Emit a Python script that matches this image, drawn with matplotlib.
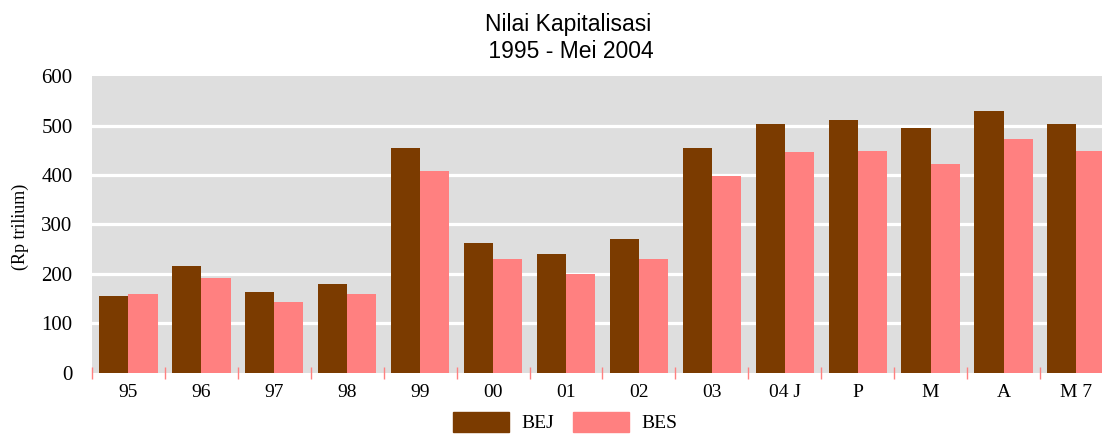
import numpy as np
import matplotlib
matplotlib.use("Agg")
import matplotlib.pyplot as plt
from matplotlib.patches import Patch

labels = ["95", "96", "97", "98", "99", "00", "01", "02", "03", "04 J", "P", "M", "A", "M 7"]
bej = [155, 215, 163, 179, 454, 262, 240, 270, 454, 503, 511, 495, 529, 503]
bes = [159, 191, 143, 159, 408, 230, 199, 230, 398, 446, 448, 422, 472, 448]

c_bej = "#7B3B00"
c_bes = "#FF8080"
serif = "Liberation Serif"

fig = plt.figure(figsize=(11.02, 4.36), dpi=100)
ax = fig.add_axes([92 / 1102, (436 - 372.5) / 436, 1010 / 1102, (372.5 - 76.3) / 436])
ax.set_facecolor("#DEDEDE")

x = np.arange(len(labels))
ax.bar(x - 0.2, bej, width=0.4, color=c_bej, zorder=3)
ax.bar(x + 0.2, bes, width=0.4, color=c_bes, zorder=3)

ax.set_yticks(range(0, 700, 100))
for yv in range(100, 600, 100):
    ax.axhline(yv, color="white", lw=2.3, zorder=1)

for s in ax.spines.values():
    s.set_visible(False)

ax.set_xticks(x)
ax.set_xticklabels(labels, fontfamily=serif, fontsize=14)
ax.set_xticks(np.arange(-0.5, 14, 1), minor=True)
ax.tick_params(axis="x", which="major", length=0, pad=8)
ax.tick_params(axis="x", which="minor", direction="inout", length=9, color=c_bes, width=1)
ax.tick_params(axis="y", length=0, pad=14)
for t in ax.get_yticklabels():
    t.set_fontfamily(serif)
    t.set_fontsize(15)

# limits after the ticks, set_xticks would widen them
ax.set_ylim(0, 600)
ax.set_xlim(-0.5, 13.35)

ax.set_ylabel("(Rp trilium)", fontfamily=serif, fontsize=13)
ax.yaxis.set_label_coords(-0.0624, 0.49)

fig.text(568 / 1102, 1 - 24.5 / 436, "Nilai Kapitalisasi", ha="center", va="center",
         fontfamily="Liberation Sans", fontsize=16.5)
fig.text(568 / 1102, 1 - 51 / 436, " 1995 - Mei 2004", ha="center", va="center",
         fontfamily="Liberation Sans", fontsize=16.5)

handles = [Patch(color=c_bej, label="BEJ"), Patch(color=c_bes, label="BES")]
fig.legend(handles=handles, loc="center", bbox_to_anchor=(565 / 1102, 1 - 422 / 436),
           ncol=2, frameon=False, prop={"family": serif, "size": 14},
           handlelength=2.9, handleheight=1.2, handletextpad=0.6, columnspacing=1.0)

fig.savefig("out.png", dpi=100)
